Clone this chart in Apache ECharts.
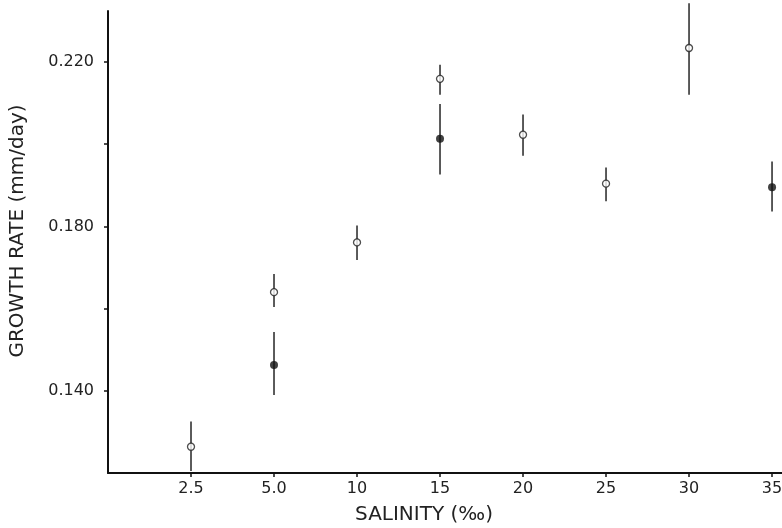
<!DOCTYPE html>
<html><head><meta charset="utf-8">
<script src="https://cdn.jsdelivr.net/npm/echarts@6/dist/echarts.min.js"></script>
<style>html,body{margin:0;padding:0;background:#fff}#c{width:782px;height:528px}</style>
</head><body><div id="c"></div>
<script>
// Categories (salinity, ‰)
const categories = ['2.5', '5.0', '10', '15', '20', '25', '30', '35'];
// Open-circle series: category index, mean, error-bar low/high
const openIdx  = [0, 1, 2, 3, 4, 5, 6];
const openMean = [0.1264, 0.1640, 0.1761, 0.2159, 0.2023, 0.1904, 0.2234];
const openLow  = [0.1205, 0.1604, 0.1718, 0.2120, 0.1972, 0.1861, 0.2120];
const openHigh = [0.1325, 0.1684, 0.1802, 0.2193, 0.2072, 0.1943, 0.2343];
// Filled-circle series
const fillIdx  = [1, 3, 7];
const fillMean = [0.1463, 0.2013, 0.1895];
const fillLow  = [0.1390, 0.1926, 0.1836];
const fillHigh = [0.1543, 0.2098, 0.1958];
// Y tick labels / ticks
const yLabelValues = [0.14, 0.18, 0.22];
const yTickValues = [0.14, 0.16, 0.18, 0.20, 0.22];

const openData = openIdx.map((c, i) => [c + 1, openMean[i]]);
const fillData = fillIdx.map((c, i) => [c + 1, fillMean[i]]);
const barData = openIdx.map((c, i) => [c + 1, openLow[i], openHigh[i]])
  .concat(fillIdx.map((c, i) => [c + 1, fillLow[i], fillHigh[i]]));
const xTickValues = categories.map((c, i) => i + 1);

const chart = echarts.init(document.getElementById('c'));
const font = '"DejaVu Sans", sans-serif';
chart.setOption({
  animation: false,
  backgroundColor: '#fff',
  grid: { left: 108, top: 11, right: 0, bottom: 55, containLabel: false, outerBoundsMode: 'none' },
  xAxis: {
    type: 'value', min: 0, max: 8.12,
    splitLine: { show: false },
    axisLine: { lineStyle: { color: '#111', width: 2 } },
    axisTick: { show: true, length: 4, lineStyle: { color: '#111', width: 1.5 },
      customValues: xTickValues },
    axisLabel: { color: '#222', fontSize: 16, fontFamily: font, margin: 8,
      customValues: xTickValues,
      formatter: v => categories[Math.round(v) - 1] || '' }
  },
  yAxis: {
    type: 'value', min: 0.12, max: 0.2324, interval: 0.02,
    splitLine: { show: false },
    axisLine: { lineStyle: { color: '#111', width: 2 } },
    axisTick: { show: true, length: 4, lineStyle: { color: '#111', width: 1.5 },
      customValues: yTickValues },
    axisLabel: { color: '#222', fontSize: 16, fontFamily: font, margin: 14,
      customValues: yLabelValues,
      formatter: v => v.toFixed(3) }
  },
  graphic: [
    { type: 'text', x: 424, y: 515,
      style: { text: 'SALINITY (‰)', fontSize: 20, fontFamily: font, fill: '#222',
        align: 'center', verticalAlign: 'middle' } },
    { type: 'text', x: 18, y: 231, rotation: Math.PI / 2,
      style: { text: 'GROWTH RATE (mm/day)', fontSize: 20, fontFamily: font, fill: '#222',
        align: 'center', verticalAlign: 'middle' } }
  ],
  series: [
    {
      type: 'custom', data: barData, z: 2, clip: false,
      renderItem: (params, api) => {
        const p1 = api.coord([api.value(0), api.value(1)]);
        const p2 = api.coord([api.value(0), api.value(2)]);
        return { type: 'line', shape: { x1: p1[0], y1: p1[1], x2: p2[0], y2: p2[1] },
          style: { stroke: '#333', lineWidth: 1.6 } };
      }
    },
    {
      type: 'scatter', data: openData, symbol: 'circle', symbolSize: 7, z: 3,
      itemStyle: { color: '#fff', borderColor: '#222', borderWidth: 1.3 }
    },
    {
      type: 'scatter', data: fillData, symbol: 'circle', symbolSize: 8, z: 3,
      itemStyle: { color: '#111' }
    }
  ]
});
</script></body></html>
